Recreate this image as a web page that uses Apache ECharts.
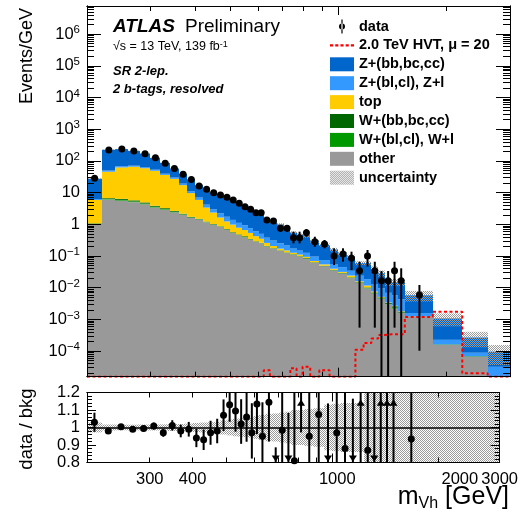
<!DOCTYPE html>
<html>
<head>
<meta charset="utf-8">
<script src="https://cdn.jsdelivr.net/npm/echarts@6.0.0/dist/echarts.min.js"></script>
<style>
  html, body { margin: 0; padding: 0; background: #fff; }
  #chart { width: 521px; height: 514px; }
</style>
</head>
<body>
<div id="chart"></div>
<script>
"use strict";

/* bin edges in GeV (log x axis 200-3000) */
const EDGES = [200, 220, 240, 260, 280, 300, 320, 340, 360, 380, 400, 420, 440, 460, 480, 500, 520, 540, 560, 580,
  600, 620, 645, 675, 705, 735, 765, 795, 835, 885, 945, 1000, 1060, 1115, 1175, 1235, 1290, 1345, 1405, 1460,
  1530, 1830, 2210, 2600, 3000];

/* background processes, events/GeV per bin */
const OTHER = [1.0, 6.1, 5.6, 5.0, 4.3, 3.4, 2.9, 2.4, 2.0, 1.6,
  1.4, 1.15, 0.97, 0.83, 0.68, 0.54, 0.46, 0.39, 0.33, 0.28,
  0.25, 0.2, 0.17, 0.145, 0.125, 0.11, 0.095, 0.08, 0.062, 0.048,
  0.035, 0.028, 0.02, 0.014, 0.0095, 0.0065, 0.0045, 0.003, 0.0022, 0.0016,
  0.0012, 0.000156, 0.000066, 0.000012];
const W_BL = [0.03, 0.25, 0.3, 0.28, 0.24, 0.18, 0.13, 0.1, 0.07, 0.05,
  0.035, 0.028, 0.02, 0.016, 0.013, 0.011, 0.009, 0.008, 0.006, 0.005,
  0.004, 0.0035, 0.003, 0.0025, 0.002, 0.0018, 0.0015, 0.0025, 0.0008, 0.0007,
  0.0006, 0.0005, 0.0004, 0.0003, 0.00025, 0.0002, 0.00015, 0.0001, 0.00015, 0.00005,
  0.00002, 0.000003, 0.000001, 0];
const W_BB = [0.04, 0.35, 0.45, 0.42, 0.36, 0.27, 0.2, 0.14, 0.09, 0.07,
  0.055, 0.042, 0.03, 0.024, 0.02, 0.016, 0.013, 0.022, 0.009, 0.007,
  0.006, 0.0055, 0.004, 0.0035, 0.003, 0.0027, 0.0025, 0.0035, 0.001, 0.0008,
  0.0012, 0.001, 0.0008, 0.0006, 0.00045, 0.0004, 0.0003, 0.0002, 0.00025, 0.0001,
  0.00002, 0.000004, 0.000002, 0];
const TOP = [4.8, 39, 56, 60, 54, 45, 33, 24.6, 15, 7.9,
  4.4, 2.15, 1.33, 0.77, 0.52, 0.41, 0.30, 0.24, 0.19, 0.13,
  0.09, 0.05, 0.03, 0.02, 0.02, 0.012, 0.012, 0.008, 0.006, 0.005,
  0.003, 0.002, 0.003, 0.001, 0.0015, 0.0005, 0.0002, 0.0001, 0.0001, 0.00005,
  0, 0, 0, 0];
const Z_L = [0.4, 4, 5, 5, 4.5, 4, 3.2, 2.6, 2.0, 1.5,
  1.1, 0.8, 0.6, 0.6, 0.5, 0.4, 0.33, 0.27, 0.22, 0.18,
  0.15, 0.12, 0.1, 0.08, 0.065, 0.045, 0.037, 0.032, 0.026, 0.02,
  0.016, 0.013, 0.01, 0.008, 0.007, 0.0055, 0.0045, 0.0035, 0.003, 0.0025,
  0.00035, 0.000064, 0.00002, 0.00002];
const Z_HF = [21.2, 175, 169, 136, 107, 72, 47, 27.5, 19.6, 15.2,
  10.2, 9.5, 7.25, 6.36, 4.87, 3.72, 3.09, 2.57, 2.07, 1.77,
  1.53, 1.06, 0.80, 0.75, 0.545, 0.38, 0.32, 0.294, 0.198, 0.148,
  0.104, 0.0755, 0.063, 0.036, 0.041, 0.026, 0.019, 0.0081, 0.0093, 0.0107,
  0.0042, 0.00085, 0.00018, 0.000064];
/* relative background uncertainty */
const BKG_UNC = [0.028, 0.017, 0.016, 0.016, 0.017, 0.017, 0.018, 0.02, 0.02, 0.022,
  0.026, 0.028, 0.03, 0.032, 0.04, 0.045, 0.05, 0.052, 0.055, 0.058,
  0.065, 0.072, 0.078, 0.08, 0.085, 0.09, 0.1, 0.1, 0.105, 0.11,
  0.13, 0.135, 0.14, 0.14, 0.14, 0.21, 0.22, 0.25, 0.25, 0.25,
  0.37, 0.44, 0.51, 0.62];
/* 2.0 TeV HVT signal x20 */
const SIGNAL = [1e-5, 1e-5, 1e-5, 1e-5, 1e-5, 1e-5, 1e-5, 1e-5, 1e-5, 1e-5,
  1e-5, 1e-5, 1e-5, 1e-5, 1e-5, 1e-5, 1e-5, 1e-5, 1e-5, 1e-5,
  1e-5, 2.5e-5, 1e-5, 1e-5, 1e-5, 2.9e-5, 1e-5, 3.2e-5, 1e-5, 2.5e-5,
  1e-5, 1e-5, 1e-5, 1.1e-4, 1.8e-4, 2.5e-4, 3.2e-4, 3.4e-4, 3.4e-4, 3.4e-4,
  1.2e-3, 1.75e-3, 2e-5, 1e-5];

/* data (first 41 bins), with error bar ends */
const DATA = [28.3, 221, 237, 205, 169, 126, 84, 58, 38, 26,
  16.2, 12.7, 9.9, 8.4, 7.1, 5.8, 4.6, 3.6, 3.0, 2.3,
  2.3, 1.37, 1.27, 0.75, 0.75, 0.378, 0.378, 0.543, 0.283, 0.239,
  0.10, 0.116, 0.085, 0.034, 0.10, 0.034, 0.0166, 0.0166, 0.034, 0.0166,
  0.0059];
const DATA_LO = [26.8, 218, 234, 202, 166, 123.5, 82, 56.3, 36.6, 24.9,
  15.3, 11.9, 9.2, 7.8, 6.5, 5.3, 4.1, 3.2, 2.6, 1.95,
  1.95, 1.1, 1.02, 0.58, 0.58, 0.25, 0.25, 0.406, 0.196, 0.175,
  0.052, 0.066, 0.036, 0.00055, 0.046, 0.00055, 1e-6, 1e-6, 0.00055, 1e-6,
  0.000103];
const DATA_HI = [29.8, 224, 240, 208, 172, 128.5, 86, 59.7, 39.4, 27.1,
  17.1, 13.5, 10.6, 9.0, 7.7, 6.4, 5.1, 4.1, 3.4, 2.7,
  2.7, 1.65, 1.55, 0.95, 0.95, 0.585, 0.585, 0.71, 0.406, 0.32,
  0.175, 0.175, 0.137, 0.066, 0.155, 0.066, 0.0336, 0.0336, 0.066, 0.041,
  0.0122];
/* data / bkg */
const RATIO = [1.03, 0.98, 1.005, 0.99, 0.995, 1.008, 0.97, 1.012, 0.98, 0.99,
  0.94, 0.93, 0.97, 0.98, 1.07, 1.13, 1.095, 1.02, 1.06, 0.97,
  1.135, 0.95, 1.145, 0.7, 0.985, 0.7, 0.81, 1.3, 0.95, 1.075,
  0.65, 0.97, 0.88, 0.6, 1.6, 0.87, 0.6, 1.6, 1.6, 1.6,
  0.935];

const X_LABELS = [300, 400, 1000, 2000, 3000];
const X_MINOR = [300, 400, 500, 600, 700, 800, 900, 2000, 3000];
const X_MAJOR = [1000];
const Y_MAJOR = [1e-4, 1e-3, 1e-2, 1e-1, 1, 10, 1e2, 1e3, 1e4, 1e5, 1e6];
const R_LABELS = [0.8, 0.9, 1, 1.1, 1.2];

const X_MIN = 200, X_MAX = 3000;
const Y_MIN = 1.56e-5, Y_MAX = 7.7e6;
const R_MIN = 0.8, R_MAX = 1.2;
const FONT = '"Liberation Sans", Arial, Helvetica, sans-serif';
const NB = EDGES.length - 1;
// the original plot prints some log-axis labels a little right of their tick
const X_LABEL_SHIFT = { 300: 1, 1000: 5, 2000: 22 };

const Y_MINOR = [];
for (let e = -5; e <= 6; e++) for (let m = 2; m <= 9; m++) {
  const v = m * Math.pow(10, e);
  if (v > Y_MIN && v < Y_MAX) Y_MINOR.push(v);
}
const R_MINOR = [];
for (let k = 41; k < 60; k++) if (k % 5) R_MINOR.push(k / 50);

const clampY = v => Math.min(Math.max(v, Y_MIN), Y_MAX);
const clampR = v => Math.min(Math.max(v, R_MIN), R_MAX);

function hatch() {
  const c = document.createElement("canvas");
  c.width = c.height = 4;
  const g = c.getContext("2d");
  g.fillStyle = "#9a9a9a";
  for (let y = 0; y < 4; y++) for (let x = 0; x < 4; x++) if ((x + y) % 2 === 0) g.fillRect(x, y, 1, 1);
  return { image: c, repeat: "repeat" };
}
const HATCH = hatch();

/* ---------- axes ---------- */
const xLabelRich = {};
for (const k of Object.keys(X_LABEL_SHIFT)) {
  xLabelRich["s" + k] = { fontFamily: FONT, fontSize: 16.5, color: "#000", padding: [0, 0, 0, 2 * X_LABEL_SHIFT[k]] };
}
function xLabel(v) {
  const n = Math.round(v);
  return X_LABEL_SHIFT[n] ? "{s" + n + "|" + n + "}" : String(n);
}
function xAx(grid, pos, ticks, len, labels) {
  return {
    type: "log", logBase: 10, gridIndex: grid, position: pos, min: X_MIN, max: X_MAX, z: 10,
    axisLine: { show: true, onZero: false, lineStyle: { color: "#000", width: 1 } },
    splitLine: { show: false },
    axisTick: { show: true, inside: true, length: len, customValues: ticks, lineStyle: { color: "#000", width: 1 } },
    axisLabel: labels ? {
      show: true, customValues: X_LABELS, formatter: xLabel, rich: xLabelRich,
      fontFamily: FONT, fontSize: 16.5, color: "#000", margin: 8,
      showMaxLabel: true, showMinLabel: true, hideOverlap: false
    } : { show: false }
  };
}
function yAx(grid, pos, ticks, len, log, labels) {
  const ax = {
    type: log ? "log" : "value", gridIndex: grid, position: pos, z: 10,
    min: log ? Y_MIN : R_MIN, max: log ? Y_MAX : R_MAX,
    axisLine: { show: true, onZero: false, lineStyle: { color: "#000", width: 1 } },
    splitLine: { show: false },
    axisTick: { show: true, inside: true, length: len, customValues: ticks, lineStyle: { color: "#000", width: 1 } },
    axisLabel: { show: false }
  };
  if (log) ax.logBase = 10;
  if (labels) ax.axisLabel = labels;
  return ax;
}
function powLabel(v) {
  const e = Math.round(Math.log10(v));
  if (e === 0) return "{b|1}";
  if (e === 1) return "{b|10}";
  return "{b|10}{s|" + (e < 0 ? "\u2212" + (-e) : e) + "}";
}
const yMainLabels = {
  show: true, customValues: Y_MAJOR, formatter: powLabel, margin: 7, color: "#000",
  showMinLabel: true, showMaxLabel: true,
  rich: {
    b: { fontFamily: FONT, fontSize: 16.5, lineHeight: 20, color: "#000" },
    s: { fontFamily: FONT, fontSize: 11.5, lineHeight: 12, verticalAlign: "top", color: "#000" }
  }
};
const yRatioLabels = {
  show: true, customValues: R_LABELS, formatter: v => String(Math.round(v * 10) / 10),
  margin: 7, fontFamily: FONT, fontSize: 16.5, color: "#000", showMinLabel: true, showMaxLabel: true
};

/* ---------- series ---------- */
// snap bin rectangles to whole pixels so neighbouring bins do not leave seams
function binRect(api, x0, x1, yTop, yBot, fill) {
  const p0 = api.coord([x0, yTop]);
  const p1 = api.coord([x1, yBot]);
  const l = Math.round(p0[0]), r = Math.round(p1[0]);
  const t = p0[1], b = p1[1];
  return { type: "rect", shape: { x: l, y: t, width: r - l, height: b - t }, style: { fill: fill } };
}
function rectItem(params, api) {
  const b = clampY(api.value(2)), t = clampY(api.value(3));
  if (t <= b) return null;
  return binRect(api, api.value(0), api.value(1), t, b, api.visual("color"));
}

const STACK = [
  { name: "other", vals: OTHER, color: "#999999" },
  { name: "W+(bl,cl), W+l", vals: W_BL, color: "#009900" },
  { name: "W+(bb,bc,cc)", vals: W_BB, color: "#006600" },
  { name: "top", vals: TOP, color: "#ffcc00" },
  { name: "Z+(bl,cl), Z+l", vals: Z_L, color: "#3399ff" },
  { name: "Z+(bb,bc,cc)", vals: Z_HF, color: "#0066cc" }
];
const cum = new Array(NB).fill(0);
const stackSeries = STACK.map(p => {
  const rows = p.vals.map((v, i) => {
    const b = cum[i];
    cum[i] += v;
    return [EDGES[i], EDGES[i + 1], b, cum[i]];
  });
  return {
    type: "custom", name: p.name, xAxisIndex: 0, yAxisIndex: 0, z: 2,
    itemStyle: { color: p.color }, renderItem: rectItem, data: rows, silent: true
  };
});
const TOTAL = cum.slice();

const uncSeries = {
  type: "custom", name: "uncertainty", xAxisIndex: 0, yAxisIndex: 0, z: 3, silent: true,
  itemStyle: { color: HATCH },
  data: TOTAL.map((t, i) => [EDGES[i], EDGES[i + 1], t * (1 - BKG_UNC[i]), t * (1 + BKG_UNC[i])]),
  renderItem: function (params, api) {
    return binRect(api, api.value(0), api.value(1), clampY(api.value(3)), clampY(api.value(2)), HATCH);
  }
};

const HVT = "2.0 TeV HVT, \u03bc = 20";
const sigData = SIGNAL.map((v, i) => [EDGES[i], clampY(v)]);
sigData.push([EDGES[NB], clampY(SIGNAL[NB - 1])]);
const sigSeries = {
  type: "line", name: HVT, xAxisIndex: 0, yAxisIndex: 0, z: 4, step: "end",
  symbol: "none", silent: true, data: sigData,
  itemStyle: { color: "#ff0000" },
  lineStyle: { color: "#ff0000", width: 2, type: [3, 2.5] }
};

const centers = DATA.map((v, i) => (EDGES[i] + EDGES[i + 1]) / 2);
const dataSeries = {
  type: "custom", name: "data", xAxisIndex: 0, yAxisIndex: 0, z: 5, silent: true,
  itemStyle: { color: "#000" },
  data: DATA.map((v, i) => [centers[i], v, DATA_LO[i], DATA_HI[i]]),
  renderItem: function (params, api) {
    const x = api.value(0);
    const c = api.coord([x, clampY(api.value(1))]);
    const lo = api.coord([x, clampY(api.value(2))]);
    const hi = api.coord([x, clampY(api.value(3))]);
    return { type: "group", children: [
      { type: "line", shape: { x1: c[0], y1: hi[1], x2: c[0], y2: lo[1] }, style: { stroke: "#000", lineWidth: 2 } },
      { type: "circle", shape: { cx: c[0], cy: c[1], r: 3.5 }, style: { fill: "#000" } }
    ] };
  }
};

/* ratio panel */
const ratioBand = {
  type: "custom", xAxisIndex: 4, yAxisIndex: 4, z: 2, silent: true,
  data: BKG_UNC.map((u, i) => [EDGES[i], EDGES[i + 1], 1 - u, 1 + u]),
  renderItem: function (params, api) {
    return binRect(api, api.value(0), api.value(1), clampR(api.value(3)), clampR(api.value(2)), HATCH);
  },
  markLine: {
    silent: true, symbol: "none", label: { show: false }, animation: false,
    lineStyle: { color: "#000", width: 1.5, type: "solid" },
    data: [{ yAxis: 1 }]
  }
};
const ratioPoints = {
  type: "custom", xAxisIndex: 4, yAxisIndex: 4, z: 5, silent: true,
  data: RATIO.map((r, i) => [centers[i], r, r * DATA_LO[i] / DATA[i], r * DATA_HI[i] / DATA[i]]),
  renderItem: function (params, api) {
    const x = api.value(0), r = api.value(1);
    const lo = api.coord([x, clampR(api.value(2))]);
    const hi = api.coord([x, clampR(api.value(3))]);
    const kids = [];
    if (api.value(3) > R_MIN && api.value(2) < R_MAX) {
      kids.push({ type: "line", shape: { x1: lo[0], y1: hi[1], x2: lo[0], y2: lo[1] }, style: { stroke: "#000", lineWidth: 2 } });
    }
    if (r > R_MAX) {
      const tip = api.coord([x, 1.16]), base = api.coord([x, 1.125]);
      kids.push({ type: "polygon", shape: { points: [[tip[0], tip[1]], [tip[0] - 4, base[1]], [tip[0] + 4, base[1]]] }, style: { fill: "#000" } });
    } else if (r < R_MIN) {
      const tip = api.coord([x, 0.805]), base = api.coord([x, 0.84]);
      kids.push({ type: "polygon", shape: { points: [[tip[0], tip[1]], [tip[0] - 4, base[1]], [tip[0] + 4, base[1]]] }, style: { fill: "#000" } });
    } else {
      const c = api.coord([x, r]);
      kids.push({ type: "circle", shape: { cx: c[0], cy: c[1], r: 3.5 }, style: { fill: "#000" } });
    }
    return { type: "group", children: kids };
  }
};

const DATA_ICON = "path://M3.4,0h1.2v14h-1.2z M1,7a3,3 0 1,0 6,0a3,3 0 1,0 -6,0z";
const DASH_ICON = "path://M0,0h3v2h-3z M5,0h3v2h-3z M10,0h3v2h-3z M15,0h3v2h-3z M20,0h3v2h-3z";

const option = {
  animation: false,
  backgroundColor: "#fff",
  grid: [
    { left: 87, right: 11, top: 6, bottom: 137.3 },
    { left: 87, right: 11, top: 392.5, bottom: 51.5 }
  ],
  xAxis: [
    xAx(0, "bottom", X_MINOR, 5, false),
    xAx(0, "bottom", X_MAJOR, 9, false),
    xAx(0, "top", X_MINOR, 5, false),
    xAx(0, "top", X_MAJOR, 9, false),
    xAx(1, "bottom", X_MINOR, 5, true),
    xAx(1, "bottom", X_MAJOR, 9, false),
    xAx(1, "top", X_MINOR, 5, false),
    xAx(1, "top", X_MAJOR, 9, false)
  ],
  yAxis: [
    yAx(0, "left", Y_MAJOR, 14, true, yMainLabels),
    yAx(0, "left", Y_MINOR, 7, true),
    yAx(0, "right", Y_MAJOR, 14, true),
    yAx(0, "right", Y_MINOR, 7, true),
    yAx(1, "left", R_LABELS, 9, false, yRatioLabels),
    yAx(1, "left", R_MINOR, 5, false),
    yAx(1, "right", R_LABELS, 9, false),
    yAx(1, "right", R_MINOR, 5, false)
  ],
  legend: {
    orient: "vertical", left: 325, top: 14, itemWidth: 24, itemHeight: 14, itemGap: 3.9,
    selectedMode: false,
    textStyle: { fontFamily: FONT, fontSize: 14.5, fontWeight: "bold", color: "#000", lineHeight: 14 },
    data: [
      { name: "data", icon: DATA_ICON },
      { name: HVT, icon: DASH_ICON, itemStyle: { color: "#ff0000" } },
      { name: "Z+(bb,bc,cc)", icon: "rect" },
      { name: "Z+(bl,cl), Z+l", icon: "rect" },
      { name: "top", icon: "rect" },
      { name: "W+(bb,bc,cc)", icon: "rect" },
      { name: "W+(bl,cl), W+l", icon: "rect" },
      { name: "other", icon: "rect" },
      { name: "uncertainty", icon: "rect", itemStyle: { color: HATCH } }
    ]
  },
  graphic: [
    { type: "text", x: 113, y: 27, style: { text: "ATLAS", font: "italic bold 19px " + FONT, fill: "#000", verticalAlign: "middle" } },
    { type: "text", x: 185, y: 27, style: { text: "Preliminary", font: "19px " + FONT, fill: "#000", verticalAlign: "middle" } },
    { type: "text", x: 113, y: 47, style: {
        text: "\u221as = 13 TeV, 139 fb{s|-1}", font: "12.5px " + FONT, fill: "#000", verticalAlign: "middle",
        rich: { s: { fontSize: 9, fontFamily: FONT, verticalAlign: "top", lineHeight: 9 } } } },
    { type: "text", x: 113, y: 71, style: { text: "SR 2-lep.", font: "italic bold 13px " + FONT, fill: "#000", verticalAlign: "middle" } },
    { type: "text", x: 113, y: 89.5, style: { text: "2 b-tags, resolved", font: "italic bold 13px " + FONT, fill: "#000", verticalAlign: "middle" } },
    { type: "text", x: 27, y: 8, rotation: Math.PI / 2, style: { text: "Events/GeV", font: "18px " + FONT, fill: "#000", align: "right", verticalAlign: "middle" } },
    { type: "text", x: 27, y: 429, rotation: Math.PI / 2, style: { text: "data / bkg", font: "18.5px " + FONT, fill: "#000", align: "center", verticalAlign: "middle" } },
    { type: "text", x: 509, y: 497, style: {
        text: "{b|m}{s|Vh}{b| [GeV]}", align: "right", verticalAlign: "middle", fill: "#000",
        rich: {
          b: { fontFamily: FONT, fontSize: 25, lineHeight: 30 },
          s: { fontFamily: FONT, fontSize: 16, lineHeight: 13, verticalAlign: "bottom" }
        } } }
  ],
  series: stackSeries.concat([uncSeries, sigSeries, dataSeries, ratioBand, ratioPoints])
};

const chart = echarts.init(document.getElementById("chart"), null, { renderer: "canvas" });
chart.setOption(option);
</script>
</body>
</html>
